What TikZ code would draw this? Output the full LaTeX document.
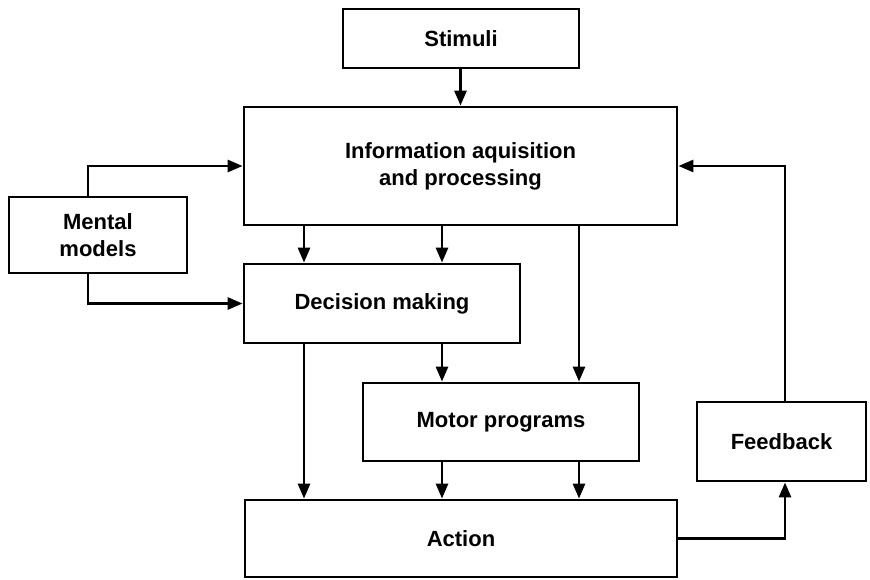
\documentclass[tikz,border=0pt]{standalone}
\usepackage{fontspec}
\setmainfont{Liberation Sans}
\usetikzlibrary{arrows.meta}
\begin{document}
\begin{tikzpicture}[x=1pt,y=1pt,
  box/.style={draw, line width=2.8pt, rectangle, inner sep=0pt, align=center,
    font=\fontsize{22}{27}\selectfont\bfseries},
  arr/.style={line width=2.8pt, -{Triangle[length=15pt,width=12pt]}}]
\useasboundingbox (0,0) rectangle (870,-579);

% blocks
\node[box, minimum width=236, minimum height=59] (stim) at (461,-38.5) {Stimuli};
\node[box, minimum width=433, minimum height=118] (info) at (460.5,-166) {Information aquisition\\and processing};
\node[box, minimum width=178, minimum height=76] (mental) at (98,-235) {Mental\\models};
\node[box, minimum width=276, minimum height=79] (dec) at (382,-303.5) {Decision making};
\node[box, minimum width=276, minimum height=78] (motor) at (501,-422) {Motor programs};
\node[box, minimum width=169, minimum height=79] (fb) at (781.5,-441.5) {Feedback};
\node[box, minimum width=432, minimum height=77] (act) at (461,-538.5) {Action};

% column guides for the vertical connectors
\coordinate (cA) at (304,0);
\coordinate (cB) at (442,0);
\coordinate (cC) at (579,0);
\coordinate (cM) at (88,0);
\coordinate (cF) at (785,0);

% connectors
\draw[arr] (stim.south -| info.north) -- (info.north);
\draw[arr] (mental.north -| cM) |- (info.west);
\draw[arr] (mental.south -| cM) |- (dec.west);
\draw[arr] (info.south -| cA) -- (dec.north -| cA);
\draw[arr] (info.south -| cB) -- (dec.north -| cB);
\draw[arr] (info.south -| cC) -- (motor.north -| cC);
\draw[arr] (dec.south -| cB) -- (motor.north -| cB);
\draw[arr] (dec.south -| cA) -- (act.north -| cA);
\draw[arr] (motor.south -| cB) -- (act.north -| cB);
\draw[arr] (motor.south -| cC) -- (act.north -| cC);
\draw[arr] (act.east) -| (fb.south -| cF);
\draw[arr] (fb.north -| cF) |- (info.east);
\end{tikzpicture}
\end{document}
